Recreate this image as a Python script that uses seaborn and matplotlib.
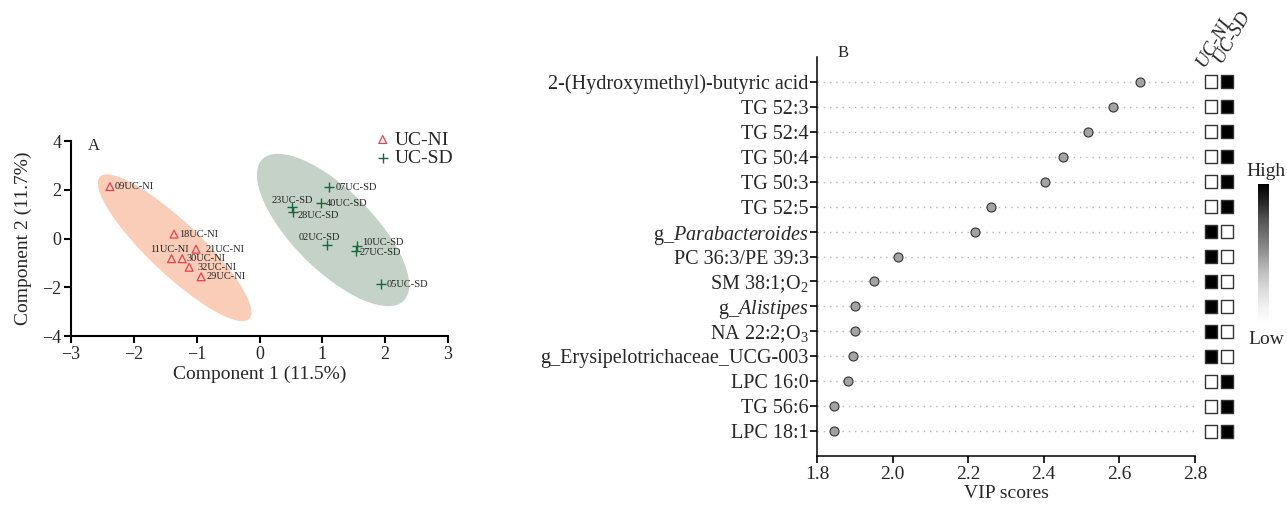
import numpy as np
import pandas as pd
import matplotlib
matplotlib.use("Agg")
import matplotlib.pyplot as plt
from matplotlib.patches import Ellipse
from matplotlib.transforms import Affine2D
from matplotlib.cm import ScalarMappable
from matplotlib.colors import Normalize
import seaborn as sns

# ---- panel A: PLS-DA score plot ----
sample_ids = ["09UC-NI", "18UC-NI", "21UC-NI", "11UC-NI", "30UC-NI", "32UC-NI", "29UC-NI",
              "07UC-SD", "40UC-SD", "23UC-SD", "28UC-SD", "02UC-SD", "10UC-SD", "27UC-SD", "05UC-SD"]
comp1 = [-2.38, -1.36, -1.01, -1.40, -1.23, -1.12, -0.93,
         1.10, 0.98, 0.52, 0.54, 1.08, 1.55, 1.53, 1.93]
comp2 = [2.13, 0.18, -0.44, -0.83, -0.83, -1.18, -1.57,
         2.10, 1.44, 1.30, 1.10, -0.28, -0.31, -0.53, -1.88]
groups = ["UC-NI"] * 7 + ["UC-SD"] * 8

# confidence ellipses (center in data units)
ell_groups = ["UC-NI", "UC-SD"]
ell_cx = [-1.35, 1.17]
ell_cy = [-0.38, 0.35]

# ---- panel B: VIP scores ----
features = ["2-(Hydroxymethyl)-butyric acid", "TG 52:3", "TG 52:4", "TG 50:4", "TG 50:3",
            "TG 52:5", "g_$\\mathit{Parabacteroides}$", "PC 36:3/PE 39:3", "SM 38:1;O$_2$",
            "g_$\\mathit{Alistipes}$", "NA 22:2;O$_3$", "g_Erysipelotrichaceae_UCG-003",
            "LPC 16:0", "TG 56:6", "LPC 18:1"]
vip = [2.655, 2.584, 2.517, 2.451, 2.404, 2.261, 2.219, 2.013, 1.951,
       1.901, 1.900, 1.896, 1.881, 1.846, 1.846]
level_ni = [0, 0, 0, 0, 0, 0, 1, 1, 1, 1, 1, 1, 0, 0, 0]
level_sd = [1, 1, 1, 1, 1, 1, 0, 0, 0, 0, 0, 0, 1, 1, 1]

scores = pd.DataFrame({"id": sample_ids, "c1": comp1, "c2": comp2, "group": groups})
heat = pd.DataFrame({
    "feature": features * 2,
    "group": ["UC-NI"] * len(features) + ["UC-SD"] * len(features),
    "level": level_ni + level_sd,
})

sns.set_theme(style="ticks")
plt.rcParams["font.family"] = ["Liberation Serif", "DejaVu Serif"]
plt.rcParams["mathtext.fontset"] = "custom"
plt.rcParams["mathtext.rm"] = "Liberation Serif"
plt.rcParams["mathtext.it"] = "Liberation Serif:italic"
plt.rcParams["mathtext.default"] = "regular"

W, H = 1287, 509
fig = plt.figure(figsize=(W / 100, H / 100), dpi=100)

def px_axes(l, t, r, b):
    return [l / W, 1 - b / H, (r - l) / W, (b - t) / H]

# ---------------- panel A ----------------
axA = fig.add_axes(px_axes(71, 141, 448, 336))
axA.set_xlim(-3, 3)
axA.set_ylim(-4, 4)

px_x = (448 - 71) / 6.0
px_y = (336 - 141) / 8.0
ell_style = {"UC-NI": dict(a=103, b=26, ang=-43.5, color="#f9cdb8"),
             "UC-SD": dict(a=100, b=40, ang=-45.0, color="#c4d2c7")}
for g, cx, cy in zip(ell_groups, ell_cx, ell_cy):
    st = ell_style[g]
    tr = (Affine2D().scale(st["a"], st["b"]).rotate_deg(st["ang"])
          .scale(1 / px_x, 1 / px_y).translate(cx, cy) + axA.transData)
    axA.add_patch(Ellipse((0, 0), 2, 2, transform=tr, facecolor=st["color"],
                          edgecolor="none", zorder=0))

ni = scores[scores.group == "UC-NI"]
sd = scores[scores.group == "UC-SD"]
sns.scatterplot(data=ni, x="c1", y="c2", marker="^", s=32, facecolor="none",
                edgecolor="#e8404a", linewidth=0.9, label="UC-NI", ax=axA, zorder=3)
sns.scatterplot(data=sd, x="c1", y="c2", marker="+", s=45, color="#17673a",
                linewidth=1.0, label="UC-SD", ax=axA, zorder=3)

label_offsets = {
    "09UC-NI": (3.6, 0, "left"), "18UC-NI": (4, 0, "left"), "21UC-NI": (6.5, 0, "left"),
    "11UC-NI": (-1.8, 7, "center"), "30UC-NI": (3, 0, "left"), "32UC-NI": (5.8, 0, "left"),
    "29UC-NI": (3.6, 0, "left"), "07UC-SD": (4.8, 0, "left"), "40UC-SD": (3.6, 0, "left"),
    "23UC-SD": (0, 4.8, "center"), "28UC-SD": (3, -2.9, "left"), "02UC-SD": (-5.6, 5.5, "center"),
    "10UC-SD": (3.6, 2.6, "left"), "27UC-SD": (2.9, -0.7, "left"), "05UC-SD": (4, 0, "left"),
}
for _, r in scores.iterrows():
    dx, dy, ha = label_offsets[r["id"]]
    axA.annotate(r["id"], (r["c1"], r["c2"]), xytext=(dx, dy), textcoords="offset points",
                 ha=ha, va="center", fontsize=7.5, color="#222222", zorder=4)

axA.set_xticks(range(-3, 4))
axA.set_yticks(range(-4, 5, 2))
axA.set_xlabel("Component 1 (11.5%)", fontsize=14, labelpad=2)
axA.set_ylabel("Component 2 (11.7%)", fontsize=14, labelpad=7)
axA.tick_params(labelsize=13, width=1.5, length=5, color="black", pad=2)
for s in ["left", "bottom"]:
    axA.spines[s].set_linewidth(1.5)
    axA.spines[s].set_color("black")
sns.despine(ax=axA)
axA.legend(loc="upper left", bbox_to_anchor=(373 / W, 1 - 131 / H), bbox_transform=fig.transFigure,
           frameon=False, fontsize=14, handletextpad=0.1, borderaxespad=0, borderpad=0,
           labelspacing=0.05, handlelength=1.0, markerscale=1.0)
fig.text(88 / W, 1 - 146 / H, "A", fontsize=12, ha="left", va="center")

# ---------------- panel B ----------------
axB = fig.add_axes(px_axes(817, 57, 1195, 456))
sns.stripplot(x=vip, y=features, orient="h", jitter=False, size=6.5, color="#a3a3a3",
              edgecolor="#333333", linewidth=0.8, ax=axB, zorder=3)
axB.set_ylim(len(features), -1)
axB.set_xlim(1.8, 2.8)
axB.set_xticks([1.8, 2.0, 2.2, 2.4, 2.6, 2.8])
axB.xaxis.set_major_formatter(matplotlib.ticker.FormatStrFormatter("%.1f"))
axB.set_axisbelow(True)
axB.yaxis.grid(True, linestyle=(0, (1, 3.5)), color="#b5b5b5", linewidth=1)
axB.set_xlabel("VIP scores", fontsize=14, labelpad=2)
axB.set_ylabel("")
axB.tick_params(axis="x", labelsize=14, width=1.2, length=5, color="black", pad=2)
axB.tick_params(axis="y", labelsize=14.5, width=1.2, length=5, color="black", pad=1)
for s in ["left", "bottom"]:
    axB.spines[s].set_linewidth(1.1)
    axB.spines[s].set_color("black")
sns.despine(ax=axB)
fig.text(838 / W, 1 - 53 / H, "B", fontsize=12, ha="left", va="center")

# heatmap of relative levels
axH = fig.add_axes(px_axes(1203, 57, 1235, 456))
sns.scatterplot(data=heat, x="group", y="feature", hue="level", palette="Greys",
                hue_norm=(0, 1), marker="s", s=86, edgecolor="#333333", linewidth=1.0,
                legend=False, ax=axH)
axH.set_xlim(-0.5, 1.5)
axH.set_ylim(len(features), -1)
axH.axis("off")

fig.text(1204 / W, 1 - 68 / H, "UC-NI", fontsize=14, style="italic", rotation=60,
         rotation_mode="anchor", ha="left", va="baseline")
fig.text(1221 / W, 1 - 64 / H, "UC-SD", fontsize=14, style="italic", rotation=60,
         rotation_mode="anchor", ha="left", va="baseline")

# colour key
cax = fig.add_axes(px_axes(1258, 184, 1269, 323))
cb = fig.colorbar(ScalarMappable(norm=Normalize(0, 1), cmap="Greys"), cax=cax)
cb.set_ticks([])
cb.outline.set_visible(False)
fig.text(1266 / W, 1 - 172 / H, "High", fontsize=14, ha="center", va="center")
fig.text(1266 / W, 1 - 339 / H, "Low", fontsize=14, ha="center", va="center")

fig.savefig("out.png", dpi=100)
